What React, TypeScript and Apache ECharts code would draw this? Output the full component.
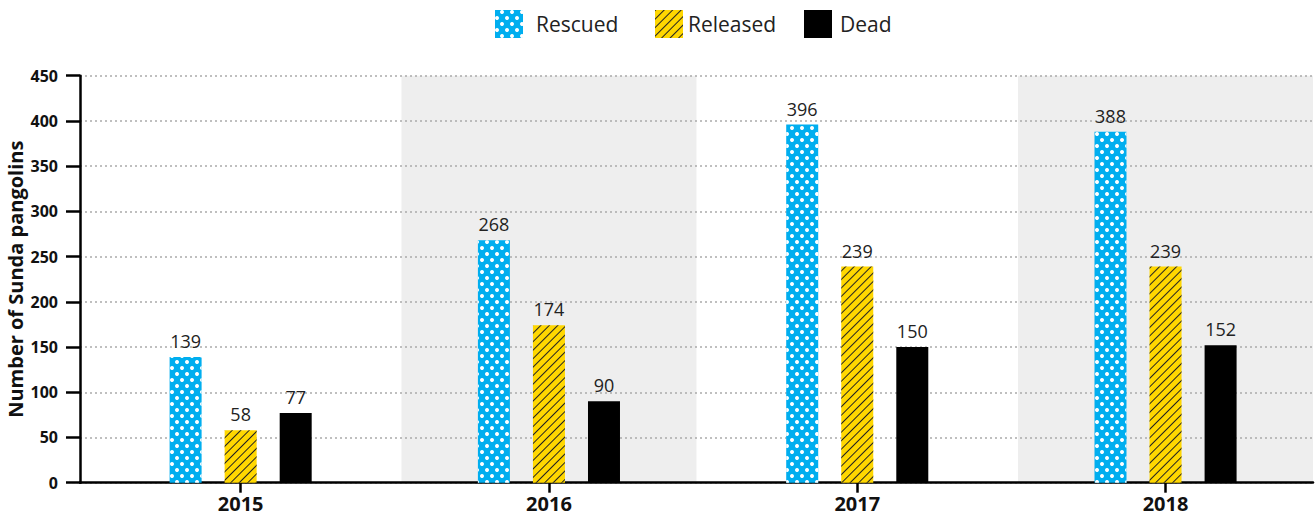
import React, { useEffect, useRef } from 'react';
import * as echarts from 'echarts';

const years = ['2015', '2016', '2017', '2018'];
const rescued = [139, 268, 396, 388];
const released = [58, 174, 239, 239];
const dead = [77, 90, 150, 152];
const shadedBands = [null, 450, null, 450];
const seriesNames = ['Rescued', 'Released', 'Dead'];
const yAxisName = 'Number of Sunda pangolins';

const FONT = '"Open Sans", "Noto Sans", sans-serif';
const BLUE = '#00AEEF';
const YELLOW = '#FFD700';
const BLACK = '#000000';

const dotDecal = {
  symbol: 'circle',
  symbolSize: 1,
  color: '#ffffff',
  dashArrayX: [[4, 6], [0, 5, 4, 1]],
  dashArrayY: [4, 1.5],
};

const hatchDecal = {
  symbol: 'rect',
  symbolSize: 1,
  symbolKeepAspect: false,
  color: '#222222',
  dashArrayX: [1, 0],
  dashArrayY: [1, 4.5],
  rotation: -Math.PI / 4,
};

export default function App() {
  const ref = useRef<HTMLDivElement>(null);

  useEffect(() => {
    if (!ref.current) return;
    const chart = echarts.init(ref.current, null, { renderer: 'svg' });
    const gridTop = 75.7;
    const gridBottom = 38.3;
    const barLabel = {
      show: true,
      position: 'top',
      distance: 7,
      fontSize: 18,
      color: '#222',
      fontFamily: FONT,
    };
    const legendBase = {
      top: 5,
      itemWidth: 28,
      itemHeight: 28,
      icon: 'rect',
      selectedMode: false,
    };
    const legendText = (pad: number) => ({
      fontSize: 21,
      color: '#222',
      fontFamily: FONT,
      padding: [0, 0, 0, pad],
    });
    const option: any = {
      animation: false,
      textStyle: { fontFamily: FONT },
      legend: [
        { ...legendBase, data: [seriesNames[0]], left: 490, textStyle: legendText(8) },
        { ...legendBase, data: [seriesNames[1]], left: 650, textStyle: legendText(0) },
        { ...legendBase, data: [seriesNames[2]], left: 799, textStyle: legendText(3) },
      ],
      grid: [
        { left: 80, right: 2, top: gridTop, bottom: gridBottom, containLabel: false, outerBoundsMode: 'none' },
        { left: 86.5, right: -4.7, top: gridTop, bottom: gridBottom, containLabel: false, outerBoundsMode: 'none' },
      ],
      xAxis: [
        {
          gridIndex: 0,
          type: 'category',
          data: years,
          axisLine: { show: true, lineStyle: { color: '#000', width: 2.5 } },
          axisTick: { show: false },
          axisLabel: { show: false },
          splitLine: { show: false },
        },
        {
          gridIndex: 1,
          type: 'category',
          data: years,
          axisLine: { show: false },
          axisTick: { show: true, alignWithLabel: true, length: 10, lineStyle: { color: '#000', width: 2.5 } },
          axisLabel: { margin: 11, fontSize: 20, fontWeight: 'bold', color: '#111', fontFamily: FONT },
          splitLine: { show: false },
        },
        { gridIndex: 1, type: 'category', data: years, show: false },
      ],
      yAxis: [
        {
          gridIndex: 0,
          type: 'value',
          min: 0,
          max: 450,
          interval: 50,
          axisLine: { show: true, lineStyle: { color: '#000', width: 2.5 } },
          axisTick: { show: true, length: 14, lineStyle: { color: '#000', width: 2.5 } },
          axisLabel: { margin: 22, fontSize: 16, fontWeight: 'bold', color: '#111', fontFamily: FONT },
          splitLine: { show: true, lineStyle: { type: [2, 3], color: '#aaaaaa', width: 1.5 } },
          name: yAxisName,
          nameLocation: 'middle',
          nameRotate: 90,
          nameGap: 55,
          nameMoveOverlap: false,
          nameTextStyle: { fontSize: 20, fontWeight: 'bold', color: '#111', fontFamily: FONT },
        },
        { gridIndex: 1, type: 'value', min: 0, max: 450, interval: 50, show: false },
      ],
      series: [
        {
          name: 'band',
          type: 'bar',
          xAxisIndex: 2,
          yAxisIndex: 1,
          data: shadedBands,
          barWidth: 295,
          z: -1,
          silent: true,
          itemStyle: { color: '#eeeeee' },
        },
        {
          name: seriesNames[0],
          type: 'bar',
          xAxisIndex: 1,
          yAxisIndex: 1,
          data: rescued,
          barWidth: 32,
          barGap: '72%',
          itemStyle: { color: BLUE, decal: dotDecal },
          label: barLabel,
        },
        {
          name: seriesNames[1],
          type: 'bar',
          xAxisIndex: 1,
          yAxisIndex: 1,
          data: released,
          barWidth: 32,
          barGap: '72%',
          itemStyle: { color: YELLOW, decal: hatchDecal },
          label: barLabel,
        },
        {
          name: seriesNames[2],
          type: 'bar',
          xAxisIndex: 1,
          yAxisIndex: 1,
          data: dead,
          barWidth: 32,
          barGap: '72%',
          itemStyle: { color: BLACK },
          label: barLabel,
        },
      ],
    };
    chart.setOption(option);
    return () => chart.dispose();
  }, []);

  return (
    <div
      ref={ref}
      style={{ position: 'absolute', left: 0, top: 0, width: 1315, height: 521, background: '#fff' }}
    />
  );
}
